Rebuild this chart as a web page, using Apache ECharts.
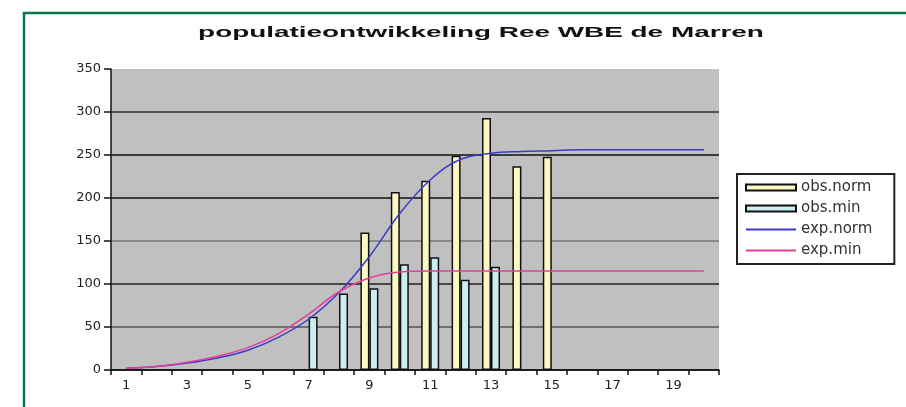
<!DOCTYPE html>
<html>
<head>
<meta charset="utf-8">
<script src="https://cdn.jsdelivr.net/npm/echarts@6/dist/echarts.min.js"></script>
<style>
html,body{margin:0;padding:0;background:#fff;}
#c{width:906px;height:407px;}
</style>
</head>
<body>
<div id="c"></div>
<script>
const titleText = 'populatieontwikkeling Ree WBE de Marren';
const categories = ['1','2','3','4','5','6','7','8','9','10','11','12','13','14','15','16','17','18','19','20'];
const obsNorm = [null,null,null,null,null,null,null,null,160,207,220,249,293,237,248,null,null,null,null,null];
const obsMin  = [null,null,null,null,null,null,62,89,95,123,131,105,120,null,null,null,null,null,null,null];
const expNorm = [2,4,8,14,23,38,59,90,132,182,221,245,252,254,255,256,256,256,256,256];
const expMin  = [2,4,9,16,26,42,65,91,107,114,115,115,115,115,115,115,115,115,115,115];
const seriesNames = ['obs.norm','obs.min','exp.norm','exp.min'];

const chart = echarts.init(document.getElementById('c'), null, {renderer:'canvas'});
chart.setOption({
  backgroundColor:'#fff',
  animation:false,
  graphic:[
    {type:'polyline', shape:{points:[[24,407],[24,13],[906,13]]}, style:{stroke:'#0b7548', lineWidth:2.5, fill:null}, silent:true},
    {type:'text', x:481, y:33, scaleX:1.86, scaleY:1, style:{text:titleText, font:'bold 15px "Liberation Sans", Arial, sans-serif', fill:'#111', align:'center', verticalAlign:'middle'}}
  ],
  legend:{
    orient:'vertical', left:737, top:174,
    backgroundColor:'#fff', borderColor:'#222', borderWidth:2,
    padding:[6,22,6,8], itemGap:6, itemWidth:50, itemHeight:6,
    textStyle:{fontFamily:'DejaVu Sans', fontSize:15, color:'#333'},
    data:[
      {name:seriesNames[0], icon:'rect'},
      {name:seriesNames[1], icon:'rect'},
      {name:seriesNames[2], itemStyle:{color:'rgba(0,0,0,0)', borderColor:'rgba(0,0,0,0)', borderWidth:0}},
      {name:seriesNames[3], itemStyle:{color:'rgba(0,0,0,0)', borderColor:'rgba(0,0,0,0)', borderWidth:0}}
    ]
  },
  grid:{left:111, right:187, top:69, bottom:37, show:true, backgroundColor:'#c0c0c0', borderWidth:0},
  xAxis:{
    type:'category', data:categories, boundaryGap:true,
    axisLine:{lineStyle:{color:'#111', width:1.5}},
    axisTick:{show:true, interval:0, length:5, lineStyle:{color:'#111', width:1.5}},
    axisLabel:{interval:1, fontFamily:'DejaVu Sans', fontSize:13, color:'#222', margin:9},
    splitLine:{show:false}
  },
  yAxis:{
    type:'value', min:0, max:350, interval:50,
    axisLine:{show:true, lineStyle:{color:'#111', width:1.5}},
    axisTick:{show:true, length:7, lineStyle:{color:'#111', width:1.5}},
    axisLabel:{fontFamily:'DejaVu Sans', fontSize:13, color:'#222', margin:10},
    splitLine:{show:true, showMaxLine:false, lineStyle:{color:['#111','#555','#222','#777','#111','#111','#333'], width:1.5}}
  },
  series:[
    {name:seriesNames[0], type:'bar', data:obsNorm, barWidth:9, barGap:'0%',
     itemStyle:{color:'#fbf8c4', borderColor:'#111', borderWidth:1.5}},
    {name:seriesNames[1], type:'bar', data:obsMin, barWidth:9, barGap:'0%',
     itemStyle:{color:'#cdeef0', borderColor:'#111', borderWidth:1.5}},
    {name:seriesNames[2], type:'line', data:expNorm, smooth:0.4, symbol:'none', showSymbol:false,
     lineStyle:{color:'#3a3ac8', width:1.5}, itemStyle:{color:'#3a3ac8'}},
    {name:seriesNames[3], type:'line', data:expMin, smooth:0.4, symbol:'none', showSymbol:false,
     lineStyle:{color:'#e0409a', width:1.5}, itemStyle:{color:'#e0409a'}}
  ]
});
</script>
</body>
</html>
